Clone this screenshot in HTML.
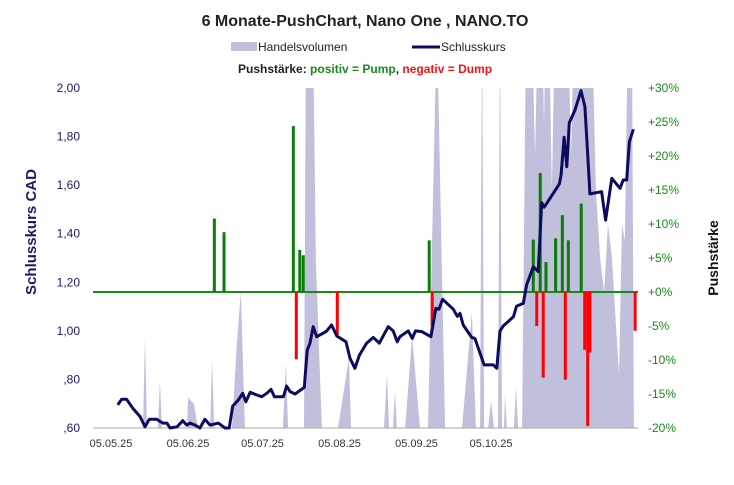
<!DOCTYPE html>
<html><head><meta charset="utf-8"><style>
body{margin:0;background:#fff;}
svg text{font-family:"Liberation Sans",sans-serif;}
</style></head><body>
<svg width="734" height="480" viewBox="0 0 734 480" id="chart">
<rect width="734" height="480" fill="#fff"/>
<defs><clipPath id="pc"><rect x="93" y="88" width="545" height="340"/></clipPath></defs>
<text x="365" y="26" text-anchor="middle" font-size="16" font-weight="bold" fill="#222">6 Monate-PushChart,  Nano One , NANO.TO</text>
<g>
<rect x="231" y="42" width="26" height="9" fill="#c0c0dc"/>
<text x="258" y="51" font-size="12" fill="#222">Handelsvolumen</text>
<line x1="412" y1="47" x2="440" y2="47" stroke="#0c0c5e" stroke-width="3"/>
<text x="441" y="51" font-size="12" fill="#222">Schlusskurs</text>
<text x="238" y="73" font-size="12" font-weight="bold" fill="#222">Pushstärke:  <tspan fill="#1a8a1a">positiv = Pump</tspan>,  <tspan fill="#ff1010">negativ = Dump</tspan></text>
</g>
<g id="vol" clip-path="url(#pc)"></g>
<g id="axes"></g>
<g id="bars"></g>
<g id="line"></g>
<text transform="translate(36,232) rotate(-90)" text-anchor="middle" font-size="15" font-weight="bold" fill="#1a1a6e">Schlusskurs CAD</text>
<text transform="translate(718,258) rotate(-90)" text-anchor="middle" font-size="14" font-weight="bold" fill="#111">Pushstärke</text>
</svg>
<script>
const priceDays=[2.7,4.3,6.3,8.9,11.7,13.7,15.4,18.4,20.9,22.5,23.8,26.6,28.9,30.5,31.8,33.8,35.8,37.8,39.9,43.2,45.9,47.6,49.0,51.2,53.0,54.3,56.0,58.7,60.7,62.7,64.4,65.8,69.4,70.7,72.1,74.1,77.8,79.0,80.1,81.4,82.8,86.6,88.8,90.9,94.6,96.2,98.2,100.0,102.9,105.6,108.0,111.6,113.6,115.2,116.3,119.7,121.3,122.6,125.1,128.8,130.8,132.0,133.5,137.8,139.4,140.5,141.8,145.2,146.5,150.2,153.9,155.3,156.6,157.9,162.0,163.3,166.0,167.3,170.0,172.0,173.4,174.4,180.5,181.2,182.4,183.5,184.5,186.8,189.2,190.8,192.2,192.8,197.5,199.1,201.6,204.9,206.2,207.6,208.7,210.3];
const prices=[0.695,0.718,0.718,0.68,0.647,0.605,0.636,0.636,0.62,0.62,0.60,0.605,0.63,0.612,0.62,0.612,0.60,0.636,0.612,0.62,0.60,0.60,0.69,0.715,0.743,0.708,0.747,0.736,0.729,0.743,0.759,0.729,0.729,0.773,0.75,0.74,0.767,0.92,0.949,1.017,0.976,0.997,1.024,0.979,0.955,0.887,0.846,0.90,0.949,0.973,0.949,1.017,1.0,0.955,0.976,1.0,0.969,1.0,0.997,0.976,1.093,1.089,1.13,1.089,1.06,1.072,1.024,0.973,0.969,0.86,0.86,0.846,1.0,1.02,1.058,1.102,1.113,1.189,1.264,1.244,1.528,1.509,1.605,1.642,1.797,1.676,1.857,1.909,1.989,1.923,1.676,1.564,1.573,1.456,1.628,1.587,1.621,1.621,1.779,1.83];
const pushDays=[41.6,45.5,73.4,74.6,76.0,77.4,91.1,128.1,129.3,170.0,171.4,172.8,174.0,175.1,179.0,181.7,182.9,184.1,189.3,190.7,191.9,192.8,211.0];
const pushValues=[10.8,8.8,24.4,-9.9,6.2,5.4,-6.3,7.6,-4.9,7.7,-5.0,17.5,-12.6,4.4,7.9,11.3,-12.9,7.6,13.0,-8.5,-19.7,-8.9,-5.7];
const volDays=[2.8,12.9,13.7,14.5,18.9,19.7,20.5,30.6,31.0,33.4,35.0,39.9,40.7,41.5,48.7,50.7,52.3,53.9,69.2,70.4,71.3,77.7,78.5,81.3,82.5,84.9,91.4,95.0,95.8,96.6,109.9,111.1,111.9,113.5,114.3,115.1,118.4,121.2,124.4,127.6,131.2,134.5,141.3,145.3,146.9,148.6,149.4,150.2,151.8,153.0,154.2,155.8,156.6,157.4,158.2,158.6,159.4,162.2,163.0,163.9,165.5,167.1,169.5,170.7,171.9,173.5,174.3,175.1,176.3,177.5,178.7,184.0,185.2,186.4,193.6,195.2,196.9,198.5,200.1,201.7,203.3,204.5,205.7,206.9,208.1,209.7,210.5];
const volValues=[0,0,27,0,0,14,0,0,9,7,0,0,20,0,0,25,40,0,0,19,0,0,120,120,49,0,0,17,21,0,0,16,0,0,11,0,0,27,0,0,120,0,0,34,0,0,120,0,0,8,0,0,120,0,0,10,0,0,12,0,0,120,120,80,120,120,90,120,120,70,120,120,80,120,120,70,50,40,60,50,30,16,60,55,120,120,0];
const leftTicks=[0.6,0.8,1.0,1.2,1.4,1.6,1.8,2.0];
const leftTickLabels=[",60",",80","1,00","1,20","1,40","1,60","1,80","2,00"];
const rightTicks=[-20,-15,-10,-5,0,5,10,15,20,25,30];
const rightTickLabels=["-20%","-15%","-10%","-5%","+0%","+5%","+10%","+15%","+20%","+25%","+30%"];
const xTickDays=[0,31,61,92,123,153];
const xTickLabels=["05.05.25","05.06.25","05.07.25","05.08.25","05.09.25","05.10.25"];

const NS="http://www.w3.org/2000/svg";
const T=88,B=428;
const xS=d=>111+d*2.484;
const yL=v=>B-(v-0.6)/1.4*(B-T);
const yR=p=>B-(p+20)/50*(B-T);
const yV=v=>B-v/100*(B-T);
function mk(tag,attrs,parent){const e=document.createElementNS(NS,tag);for(const k in attrs)e.setAttribute(k,attrs[k]);parent.appendChild(e);return e;}
const axes=document.getElementById('axes');
leftTicks.forEach((v,i)=>{
  const t=mk('text',{x:80,y:yL(v)+4,'text-anchor':'end','font-size':12,fill:'#1a1a6e'},axes);
  t.textContent=leftTickLabels[i];
  
  
});
rightTicks.forEach((v,i)=>{
  const t=mk('text',{x:648,y:yR(v)+4,'font-size':12,fill:'#1a8a1a'},axes);
  t.textContent=rightTickLabels[i];
  
  
});
xTickDays.forEach((d,i)=>{
  const t=mk('text',{x:xS(d),y:447,'text-anchor':'middle','font-size':11,fill:'#333'},axes);
  t.textContent=xTickLabels[i];
  
  
});
const xa=mk('line',{x1:93,y1:B,x2:638,y2:B,stroke:'#aaa','stroke-width':1},axes);


// volume area
let vp='M'+xS(volDays[0])+','+B;
volDays.forEach((d,i)=>{vp+=' L'+xS(d).toFixed(1)+','+yV(volValues[i]).toFixed(1);});
vp+=' L'+xS(volDays[volDays.length-1])+','+B+' Z';
const va=mk('path',{d:vp,fill:'#c0c0dc'},document.getElementById('vol'));


// zero line
const zl=mk('line',{x1:93,y1:yR(0),x2:638,y2:yR(0),stroke:'#1a8a1a','stroke-width':2},axes);


// push bars
const bars=document.getElementById('bars');
pushDays.forEach((d,i)=>{
  const v=pushValues[i];
  const y0=yR(0),y1=yR(v);
  const r=mk('rect',{x:xS(d)-1.5,y:Math.min(y0,y1),width:3,height:Math.abs(y1-y0),fill:v>=0?'#0a7d0a':'#ff0000'},bars);
  
  
});
// price line
const pts=priceDays.map((d,i)=>xS(d).toFixed(1)+','+yL(prices[i]).toFixed(1)).join(' ');
const pl=mk('polyline',{points:pts,fill:'none',stroke:'#0c0c5e','stroke-width':3,'stroke-linejoin':'round'},document.getElementById('line'));


</script>
</body></html>
